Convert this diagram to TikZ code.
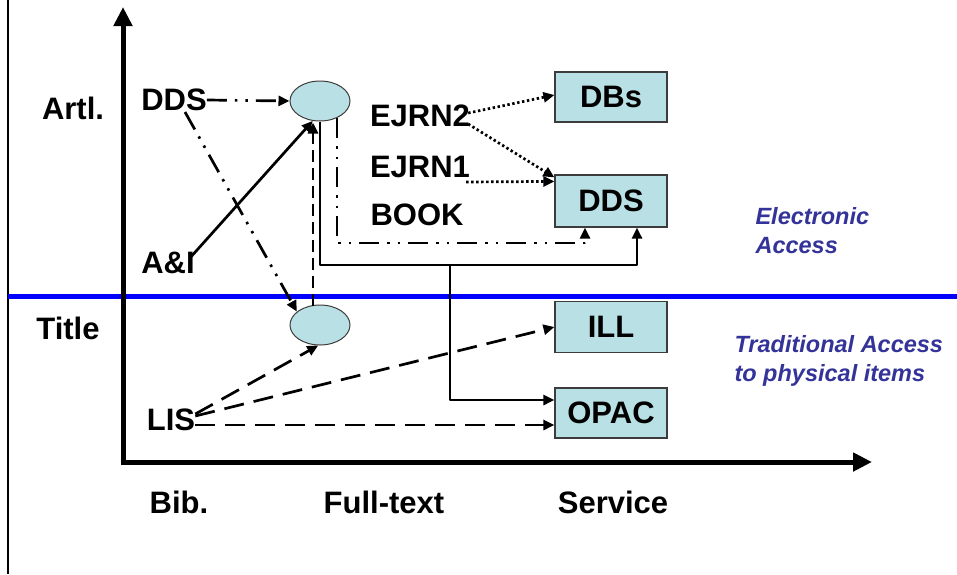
\documentclass[tikz,border=0pt]{standalone}
\usepackage{fontspec}
\setmainfont{Liberation Sans}
\usetikzlibrary{arrows.meta,shapes.geometric,calc}

\definecolor{boxfill}{RGB}{185,224,228}
\definecolor{boxline}{RGB}{60,60,60}
\definecolor{notecol}{RGB}{51,51,153}
\definecolor{divider}{RGB}{0,0,255}

\tikzset{
  lbl/.style={font=\fontsize{31}{36}\selectfont\bfseries, inner sep=2pt},
  note/.style={font=\fontsize{23.5}{29}\selectfont\bfseries\itshape, text=notecol, align=left, anchor=west},
  svcbox/.style={draw=boxline, line width=1.2pt, fill=boxfill, minimum width=112pt, minimum height=50pt, inner sep=0pt, lbl},
  hub/.style={ellipse, draw=boxline, line width=1pt, fill=boxfill, minimum width=60pt, minimum height=40pt, inner sep=0pt},
  tip/.style={-{Triangle[length=11pt,width=10pt]}},
  link/.style={line width=2.7pt, tip},
  ddot/.style={link, dash pattern=on 20pt off 8pt on 2.5pt off 8pt on 2.5pt off 8pt},
  finedot/.style={link, dash pattern=on 2.4pt off 2.6pt},
  longdash/.style={link, dash pattern=on 20pt off 10pt},
  shortdash/.style={link, dash pattern=on 12pt off 6pt},
  axis/.style={line width=5pt, -{Triangle[length=19pt,width=18pt]}},
}

\begin{document}
\begin{tikzpicture}[x=1pt, y=-1pt]
  \useasboundingbox (0,0) rectangle (957,574);

  % frame line on the left and the divider between the two access modes
  \coordinate (ftop) at (8,0);
  \coordinate (fbot) at (8,574);
  \draw[line width=1.6pt] (ftop) -- (fbot);
  \coordinate (dl) at (8,296);
  \coordinate (dr) at (957,296);
  \draw[divider, line width=5pt] (dl) -- (dr);

  % axes
  \coordinate (o) at (123,462);
  \coordinate (ytip) at (123,7);
  \coordinate (xtip) at (872,462);
  \draw[axis] ([yshift=-2.5pt]o) -- (ytip);
  \draw[axis] ([xshift=-2.5pt]o) -- (xtip);

  % axis labels
  \node[lbl] (artl)  at (73,108) {Artl.};
  \node[lbl] (title) at (68,328) {Title};
  \node[lbl] (bib)   at (179,502) {Bib.};
  \node[lbl] (ftext) at (384,502) {Full-text};
  \node[lbl] (serv)  at (613,502) {Service};

  % bibliographic sources
  \node[lbl] (ddsL) at (174,100) {DDS};
  \node[lbl] (ai)   at (168,263) {A\&I};
  \node[lbl] (lis)  at (171,420) {LIS};

  % full-text hubs
  \node[hub] (eT) at (320,101) {};
  \node[hub] (eB) at (320,325) {};

  % full-text resources
  \node[lbl] (ejrn2) at (420,116) {EJRN2};
  \node[lbl] (ejrn1) at (420,167) {EJRN1};
  \node[lbl] (book)  at (417,215) {BOOK};

  % services
  \node[svcbox] (dbs)  at (611,97)  {DBs};
  \node[svcbox, minimum height=52pt] (ddsB) at (611,201) {DDS};
  \node[svcbox, minimum height=51pt] (ill)  at (611,327) {ILL};
  \node[svcbox] (opac) at (611,413) {OPAC};

  % notes
  \node[note] (elec) at (752,231) {Electronic\\Access};
  \node[note] (trad) at (731,361) {Traditional Access\\to physical items};

  % bibliographic links
  \draw[ddot] ($(ddsL.east)+(-2,0)$) -- (eT.west);
  \draw[ddot] ($(ddsL.center)+(11,12)$) -- (eB.150);
  \draw[link] ($(ai.east)+(-7,-5)$) -- (eT.250);
  \draw[shortdash] ($(eB.north)+(-7,1)$) -- ($(eT.south)+(-7,1)$);

  % full-text to services
  \coordinate (j) at (450,265);
  \draw[link, line join=round] (eT.south) |- (j) -| ($(ddsB.south)+(26,0)$);
  \draw[link, line join=round] (j) |- ($(opac.west)+(0,-13)$);
  \draw[ddot, line join=round] (eT.315) -- ++(0,125) -| ($(ddsB.south)+(-26,0)$);

  % electronic journal links
  \draw[finedot] ($(ejrn2.east)+(-4,-3)$) -- ($(dbs.west)+(0,-2)$);
  \draw[finedot] ($(ejrn2.east)+(-4,8)$) -- ($(ddsB.north west)+(0,3)$);
  \draw[finedot] ($(ejrn1.east)+(-6,15)$) -- ($(ddsB.north west)+(0,7)$);

  % traditional access links
  \draw[longdash] ($(lis.east)+(-2,-6)$) -- (eB.265);
  \draw[longdash] ($(lis.east)+(-2,-4)$) -- (ill.west);
  \draw[longdash] ($(lis.east)+(-2,5)$) -- ($(opac.west)+(0,12)$);
\end{tikzpicture}
\end{document}
